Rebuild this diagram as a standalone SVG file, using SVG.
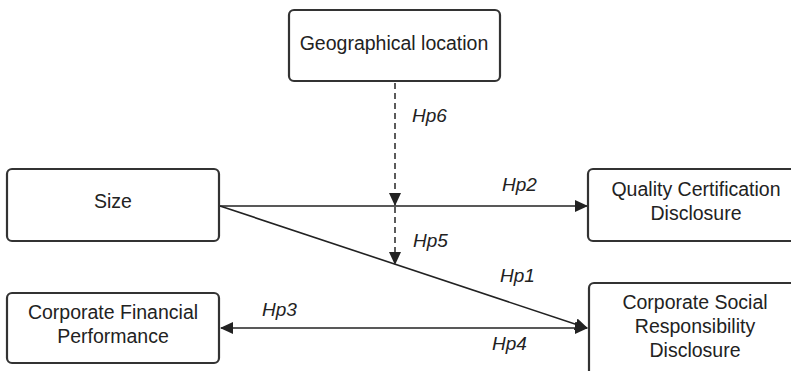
<svg xmlns="http://www.w3.org/2000/svg" width="791" height="371" viewBox="0 0 791 371">
<style>
.box{fill:#fff;stroke:#333;stroke-width:2.2}
.t{font-family:"Liberation Sans",Arial,sans-serif;font-size:19.5px;fill:#222;text-anchor:middle}
.h{font-family:"Liberation Sans",Arial,sans-serif;font-size:19px;font-style:italic;fill:#222}
.ln{stroke:#222;stroke-width:1.6;fill:none}
.ds{stroke:#333;stroke-width:1.6;fill:none;stroke-dasharray:6,4}
</style>
<defs>
<marker id="a" markerWidth="13" markerHeight="12" refX="12" refY="6" orient="auto" markerUnits="userSpaceOnUse" viewBox="0 0 13 12">
<path d="M0,0 L13,6 L0,12 z" fill="#222"/>
</marker>
<marker id="as" markerWidth="13" markerHeight="12" refX="1" refY="6" orient="auto" markerUnits="userSpaceOnUse" viewBox="0 0 13 12">
<path d="M13,0 L0,6 L13,12 z" fill="#222"/>
</marker>
</defs>
<rect width="791" height="371" fill="#fff"/>
<g id="connectors">
<line class="ln" x1="220" y1="206" x2="587" y2="206" marker-end="url(#a)"/>
<line class="ln" x1="220" y1="206" x2="587" y2="328" marker-end="url(#a)"/>
<line class="ln" x1="221" y1="328" x2="587" y2="328" marker-start="url(#as)" marker-end="url(#a)"/>
<line class="ds" x1="395" y1="83" x2="395" y2="205" marker-end="url(#a)"/>
<line class="ds" x1="395" y1="207" x2="395" y2="264" marker-end="url(#a)"/>
<text class="h" x="412" y="122">Hp6</text>
<text class="h" x="502" y="191">Hp2</text>
<text class="h" x="413" y="247">Hp5</text>
<text class="h" x="500" y="282">Hp1</text>
<text class="h" x="262" y="316">Hp3</text>
<text class="h" x="492" y="350">Hp4</text>
</g>
<g id="geo">
<rect class="box" x="289" y="10" width="211" height="71" rx="5"/>
<text class="t" x="394" y="50">Geographical location</text>
</g>
<g id="size">
<rect class="box" x="7" y="169" width="212" height="72" rx="5"/>
<text class="t" x="113" y="208">Size</text>
</g>
<g id="qcd">
<rect class="box" x="588" y="169" width="210" height="72" rx="5"/>
<text class="t" x="696" y="196">Quality Certification</text>
<text class="t" x="696" y="220">Disclosure</text>
</g>
<g id="cfp">
<rect class="box" x="7" y="293" width="212" height="70" rx="5"/>
<text class="t" x="113" y="319">Corporate Financial</text>
<text class="t" x="113" y="343">Performance</text>
</g>
<g id="csr">
<rect class="box" x="589" y="283" width="210" height="100" rx="5"/>
<text class="t" x="695" y="309">Corporate Social</text>
<text class="t" x="695" y="333">Responsibility</text>
<text class="t" x="695" y="357">Disclosure</text>
</g>
</svg>
